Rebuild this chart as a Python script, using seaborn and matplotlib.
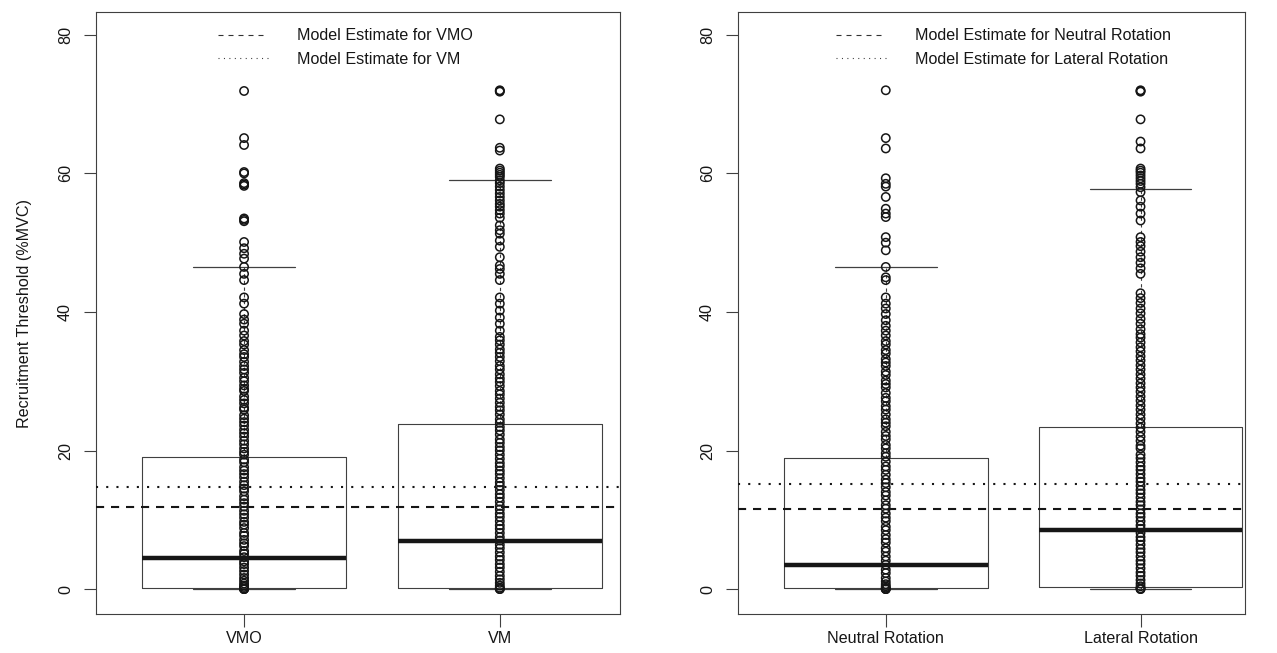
"""Recruitment thresholds by muscle and by rotation: R-style boxplots with strip points."""

import matplotlib
matplotlib.use("Agg")
import matplotlib.pyplot as plt
from matplotlib.lines import Line2D
import numpy as np
import pandas as pd
import seaborn as sns

# ---- data -------------------------------------------------------------------
muscle_labels = ["VMO", "VM"]
vmo_rt = [
    71.9, 65.1, 64.1, 60.2, 60.0, 58.6, 58.4, 58.2, 53.5, 53.3, 53.1, 50.1, 49.2,
    48.4, 47.7, 46.5, 45.5, 44.6, 42.1, 41.2, 39.7, 38.9, 38.3, 37.3, 36.6, 35.8,
    35.3, 34.5, 33.9, 33.5, 32.8, 32.2, 31.7, 31.2, 30.5, 30.0, 29.4, 28.9, 28.6,
    27.8, 27.3, 26.8, 26.2, 25.9, 25.1, 24.6, 24.1, 23.6, 23.0, 22.5, 22.0, 21.4,
    20.9, 20.3, 19.8, 19.4, 18.7, 18.3, 17.6, 17.1, 16.6, 16.1, 15.5, 15.0, 14.5,
    14.1, 13.4, 12.9, 12.4, 11.9, 11.3, 10.8, 10.3, 9.7, 9.3, 8.8, 8.1, 7.7, 7.1,
    6.6, 6.2, 5.5, 5.1, 4.6, 4.0, 3.6, 3.1, 2.6, 2.1, 1.6, 1.2, 0.8, 0.5, 0.3,
    0.1, 0.0, 0.0, 0.0,
]
vm_rt = [
    72.0, 71.9, 71.8, 67.8, 63.7, 63.3, 60.7, 60.4, 60.1, 59.8, 59.5, 59.0, 58.6,
    58.1, 57.6, 57.1, 56.6, 56.1, 55.6, 55.2, 54.7, 54.2, 53.6, 52.5, 51.8, 51.3,
    50.3, 49.4, 47.9, 46.7, 46.2, 45.5, 44.6, 42.1, 41.2, 40.2, 39.2, 38.3, 37.3,
    36.4, 35.9, 35.3, 34.6, 34.1, 33.5, 32.9, 32.2, 31.7, 31.0, 30.4, 29.9, 29.3,
    28.6, 28.1, 27.5, 26.9, 26.3, 25.8, 25.2, 24.5, 24.0, 23.4, 22.9, 22.3, 21.6,
    21.1, 20.5, 20.0, 19.4, 18.8, 18.2, 17.7, 17.1, 16.6, 16.0, 15.4, 14.9, 14.3,
    13.7, 13.2, 12.6, 12.0, 11.5, 10.9, 10.4, 9.8, 9.2, 8.7, 8.1, 7.5, 7.0, 6.4,
    5.9, 5.3, 4.7, 4.2, 3.6, 3.1, 2.5, 1.9, 1.4, 0.9, 0.5, 0.2, 0.0, 0.0,
]
muscle_q1 = [0.2, 0.2]
muscle_median = [4.5, 6.9]
muscle_q3 = [19.0, 23.8]
muscle_whislo = [0.0, 0.0]
muscle_whishi = [46.5, 59.0]
muscle_estimates = [11.9, 14.8]  # dashed = VMO, dotted = VM

rotation_labels = ["Neutral Rotation", "Lateral Rotation"]
neutral_rt = [
    72.0, 65.1, 63.6, 59.3, 58.5, 58.1, 56.6, 54.9, 54.2, 53.7, 50.8, 50.0, 48.9,
    46.5, 45.0, 44.6, 42.1, 41.2, 40.5, 39.7, 38.8, 38.0, 37.3, 36.6, 35.8, 35.3,
    34.5, 34.0, 33.2, 32.7, 32.2, 31.4, 30.9, 30.1, 29.6, 29.1, 28.3, 27.6, 27.1,
    26.4, 25.9, 25.2, 24.5, 24.0, 23.5, 22.7, 22.1, 21.6, 20.8, 20.3, 19.6, 19.1,
    18.4, 17.7, 17.2, 16.5, 15.8, 15.3, 14.7, 14.0, 13.5, 12.8, 12.1, 11.6, 10.9,
    10.3, 9.8, 9.0, 8.5, 7.8, 7.2, 6.7, 5.9, 5.4, 4.7, 4.1, 3.5, 2.8, 2.3, 1.6,
    1.1, 0.7, 0.4, 0.2, 0.0, 0.0, 0.0,
]
lateral_rt = [
    72.0, 71.9, 71.8, 67.8, 64.6, 63.6, 60.7, 60.4, 60.1, 59.7, 59.3, 58.9, 58.5,
    58.0, 57.3, 56.1, 55.2, 54.2, 53.2, 50.8, 50.1, 49.5, 48.7, 47.9, 47.1, 46.3,
    45.5, 42.7, 42.0, 41.3, 40.5, 39.8, 39.0, 38.3, 37.5, 36.8, 36.3, 35.6, 34.9,
    34.3, 33.6, 33.0, 32.3, 31.7, 31.0, 30.4, 29.7, 29.1, 28.5, 27.8, 27.2, 26.5,
    25.9, 25.2, 24.6, 23.9, 23.3, 22.7, 22.0, 21.4, 20.7, 20.3, 19.4, 18.9, 18.3,
    17.7, 17.2, 16.6, 16.0, 15.5, 14.9, 14.3, 13.8, 13.2, 12.6, 12.1, 11.5, 10.9,
    10.4, 9.8, 9.2, 8.7, 8.1, 7.5, 7.0, 6.4, 5.8, 5.3, 4.7, 4.1, 3.6, 3.0, 2.4,
    1.9, 1.3, 0.8, 0.4, 0.1, 0.0, 0.0,
]
rotation_q1 = [0.2, 0.3]
rotation_median = [3.5, 8.5]
rotation_q3 = [18.9, 23.4]
rotation_whislo = [0.0, 0.0]
rotation_whishi = [46.5, 57.8]
rotation_estimates = [11.5, 15.2]  # dashed = neutral, dotted = lateral

y_ticks = [0, 20, 40, 60, 80]

# ---- style -------------------------------------------------------------------
sns.set_style("white")
plt.rcParams["font.family"] = ["Liberation Sans", "DejaVu Sans"]
FS = 11.6
INK = "#161616"
GREY = "#404040"

DASHED = (0, (3.9, 3.3))
DOTTED = (0, (1.0, 3.9))


def draw_panel(ax, labels, values, q1, med, q3, lo, hi, estimates, legend_x, xlim):
    df = pd.DataFrame({
        "group": np.repeat(labels, [len(v) for v in values]),
        "rt": np.concatenate(values),
    })
    stats = [dict(label=l, q1=a, med=m, q3=b, whislo=w0, whishi=w1)
             for l, a, m, b, w0, w1 in zip(labels, q1, med, q3, lo, hi)]
    ax.bxp(stats, positions=[0, 1], widths=0.8, capwidths=0.4, showfliers=False,
           boxprops=dict(color=GREY, linewidth=0.8),
           whiskerprops=dict(color=GREY, linewidth=0.8, linestyle=(0, (3, 3))),
           capprops=dict(color=GREY, linewidth=0.9),
           medianprops=dict(color=INK, linewidth=3.2, solid_capstyle="butt"))

    sns.stripplot(data=df, x="group", y="rt", order=labels, jitter=False,
                  size=6.0, linewidth=1.1, ax=ax, zorder=3)
    for coll in ax.collections:
        coll.set_facecolor("none")
        coll.set_edgecolor(INK)

    ax.axhline(estimates[0], color=INK, linewidth=1.5, linestyle=DASHED, zorder=4)
    ax.axhline(estimates[1], color=INK, linewidth=1.5, linestyle=DOTTED, zorder=4)

    handles = [
        Line2D([], [], color="#333333", linewidth=0.8, linestyle=(0, (4.5, 4.5))),
        Line2D([], [], color="#333333", linewidth=0.8, linestyle=(0, (0.9, 4.0))),
    ]
    names = [f"Model Estimate for {labels[0]}", f"Model Estimate for {labels[1]}"]
    leg = ax.legend(handles, names, loc="upper left", bbox_to_anchor=(legend_x, 0.973),
                    frameon=False, fontsize=FS, handlelength=3.1, handletextpad=1.8,
                    labelspacing=0.52, borderpad=0, borderaxespad=0)
    for txt in leg.get_texts():
        txt.set_color(INK)

    ax.set_xlim(*xlim)
    ax.set_ylim(-3.6, 83.3)
    ax.set_xticks([0, 1])
    ax.set_xticklabels(labels, fontsize=FS, color=INK)
    ax.set_yticks(y_ticks)
    ax.set_yticklabels([str(t) for t in y_ticks], fontsize=FS, color=INK,
                       rotation=90, va="center")
    ax.set_xlabel("")
    ax.set_ylabel("")
    ax.tick_params(axis="x", length=9, width=0.8, color=GREY, pad=3.5, bottom=True)
    ax.tick_params(axis="y", length=8.5, width=0.8, color=GREY, pad=8, left=True)
    for sp in ax.spines.values():
        sp.set_visible(True)
        sp.set_color(GREY)
        sp.set_linewidth(0.8)


W, H = 1277, 653
fig = plt.figure(figsize=(W / 100, H / 100), dpi=100)
ax_l = fig.add_axes([96 / W, 1 - 614 / H, 524 / W, 602 / H])
ax_r = fig.add_axes([738 / W, 1 - 614 / H, 507 / W, 602 / H])

draw_panel(ax_l, muscle_labels, [vmo_rt, vm_rt], muscle_q1, muscle_median,
           muscle_q3, muscle_whislo, muscle_whishi, muscle_estimates,
           legend_x=0.233, xlim=(-0.579, 1.47))
draw_panel(ax_r, rotation_labels, [neutral_rt, lateral_rt], rotation_q1,
           rotation_median, rotation_q3, rotation_whislo, rotation_whishi,
           rotation_estimates, legend_x=0.193, xlim=(-0.58, 1.41))

ax_l.set_ylabel("Recruitment Threshold (%MVC)", fontsize=FS, color=INK, labelpad=19)

fig.savefig("out.png", dpi=100)
